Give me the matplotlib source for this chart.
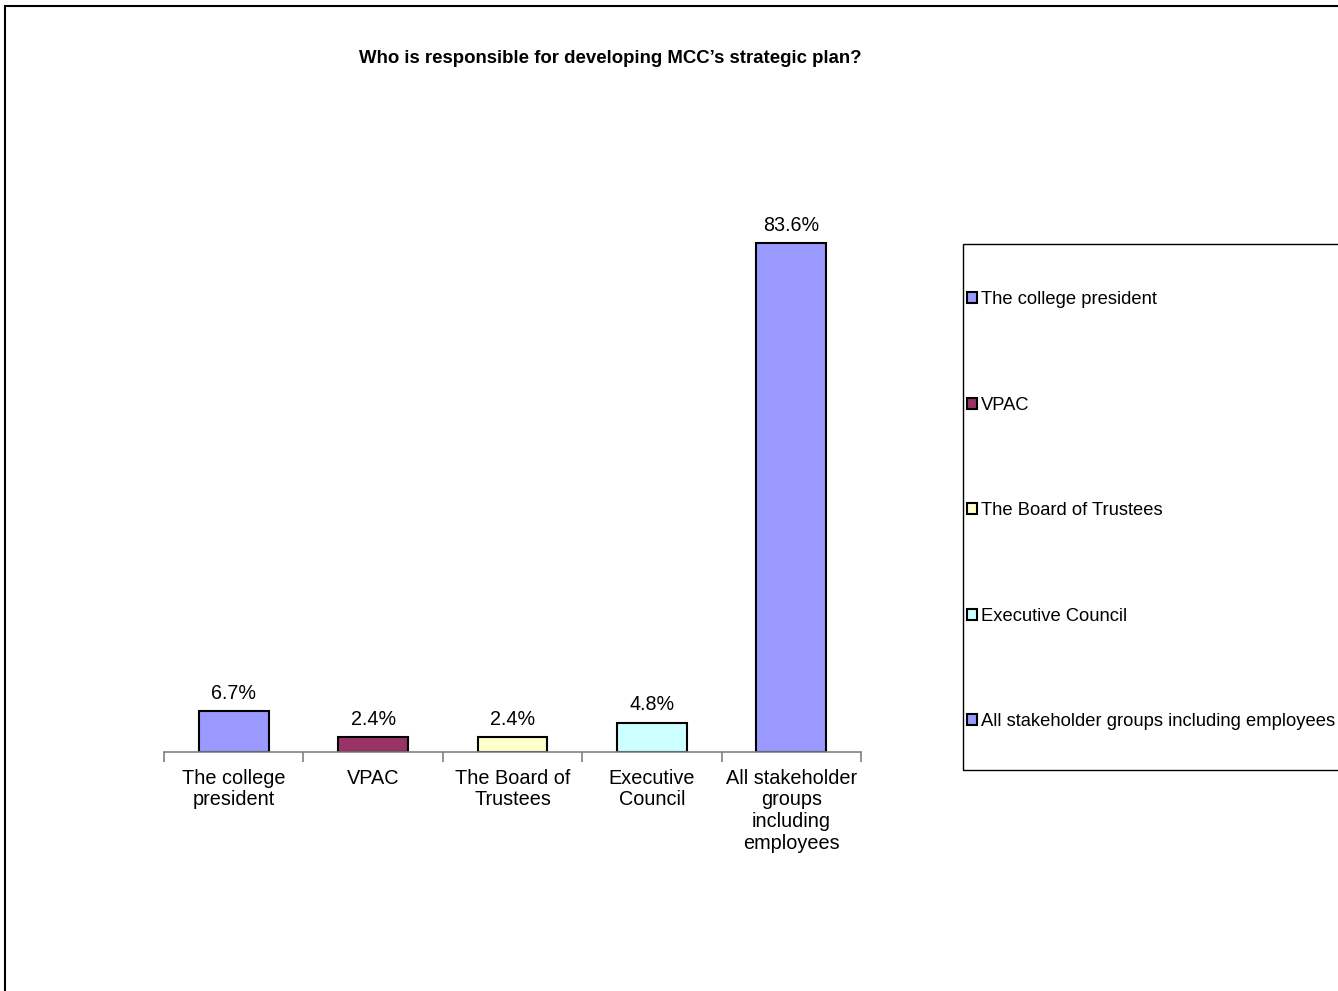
import matplotlib
matplotlib.use("Agg")
import matplotlib.pyplot as plt
from matplotlib.patches import Rectangle

plt.rcParams['font.family'] = ['Liberation Sans', 'DejaVu Sans']

categories = ["The college\npresident", "VPAC", "The Board of\nTrustees",
              "Executive\nCouncil", "All stakeholder\ngroups\nincluding\nemployees"]
legend_labels = ["The college president", "VPAC", "The Board of Trustees",
                 "Executive Council", "All stakeholder groups including employees"]
values = [6.7, 2.4, 2.4, 4.8, 83.6]
colors = ["#9999FF", "#993366", "#FFFFCC", "#CCFFFF", "#9999FF"]

fig = plt.figure(figsize=(13.38, 9.91), dpi=100)
ax = fig.add_axes([0.1226, 0.2412, 0.5209, 0.6145])

x = list(range(len(values)))
bars = ax.bar(x, values, width=0.5, color=colors, edgecolor='black', linewidth=1.5)
for xi, v in zip(x, values):
    ax.annotate('%.1f%%' % v, (xi, v), xytext=(0, 6), textcoords='offset points',
                ha='center', va='bottom', fontsize=14.2)

ax.set_xlim(-0.5, len(values) - 0.5)
ax.set_ylim(0, 100)
ax.set_xticks(x)
ax.set_xticklabels(categories, fontsize=14.3, linespacing=1.19)
ax.set_xticks([i - 0.5 for i in range(len(values) + 1)], minor=True)
ax.tick_params(axis='x', which='major', length=0, pad=12)
ax.tick_params(axis='x', which='minor', length=7, color='#808080', width=1.2)
ax.set_yticks([])
for s in ['top', 'right', 'left']:
    ax.spines[s].set_visible(False)
ax.spines['bottom'].set_color('#808080')
ax.spines['bottom'].set_linewidth(1.2)

fig.text(0.456, 0.941, "Who is responsible for developing MCC\u2019s strategic plan?",
         ha='center', va='center', fontsize=13.4, fontweight='bold')

# outer chart border
fig.patches.append(Rectangle((5 / 1338, -0.01), 1.02, 1 - 6 / 991 + 0.01,
                             transform=fig.transFigure, fill=False,
                             edgecolor='black', linewidth=1.5))

# legend box
fig.patches.append(Rectangle((963 / 1338, 1 - 770 / 991), 0.3, (770 - 244) / 991,
                             transform=fig.transFigure, fill=False,
                             edgecolor='black', linewidth=1.0))
leg = fig.legend(bars, legend_labels, loc='upper left',
                 bbox_to_anchor=(967 / 1338, 1 - 291 / 991), frameon=False,
                 fontsize=13.2, handlelength=0.55, handleheight=0.55,
                 handletextpad=0.2, labelspacing=4.83, borderpad=0, borderaxespad=0)
for h in leg.legend_handles:
    h.set_linewidth(1.5)

fig.savefig('out.png', dpi=100)
